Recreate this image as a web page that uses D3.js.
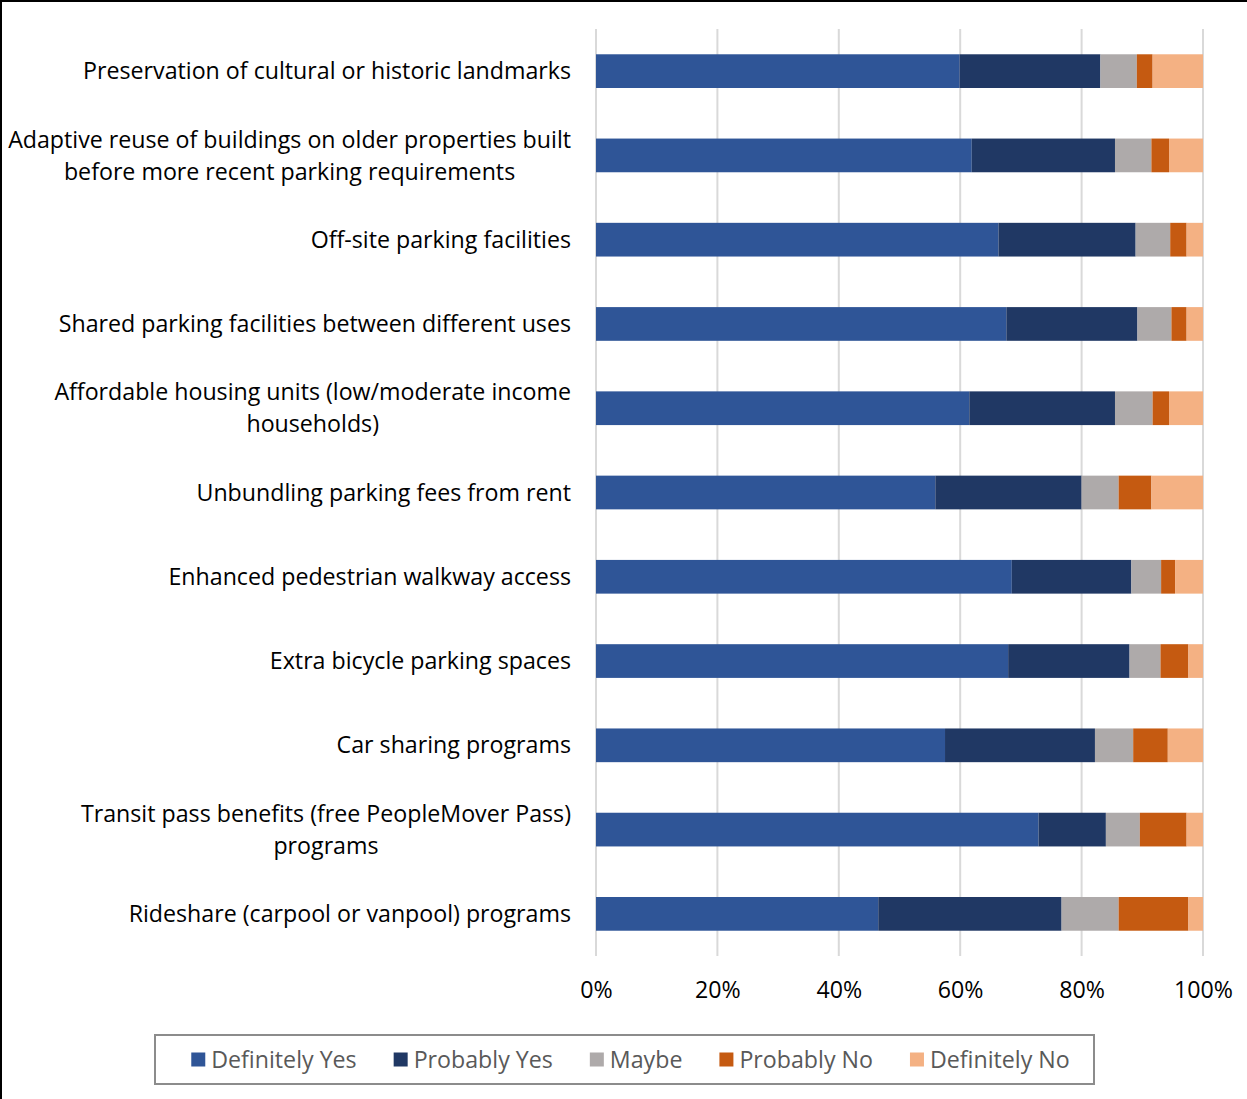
<!DOCTYPE html>
<html>
<head>
<meta charset="utf-8">
<script src="https://cdn.jsdelivr.net/npm/d3@7"></script>
<style>
  html, body { margin: 0; padding: 0; background: #fff; }
  svg { display: block; }
</style>
</head>
<body>
<svg id="chart" width="1247" height="1099"></svg>
<script>
// Survey items, top to bottom (multi-line labels split on "|")
const categories = [
  "Preservation of cultural or historic landmarks",
  "Adaptive reuse of buildings on older properties built|before more recent parking requirements",
  "Off-site parking facilities",
  "Shared parking facilities between different uses",
  "Affordable housing units (low/moderate income|households)",
  "Unbundling parking fees from rent",
  "Enhanced pedestrian walkway access",
  "Extra bicycle parking spaces",
  "Car sharing programs",
  "Transit pass benefits (free PeopleMover Pass)|programs",
  "Rideshare (carpool or vanpool) programs"
];

const seriesNames = ["Definitely Yes", "Probably Yes", "Maybe", "Probably No", "Definitely No"];

// Share of responses (%) per category, one array per response option
const definitelyYes = [59.9, 61.9, 66.3, 67.6, 61.5, 55.9, 68.5, 67.9, 57.5, 72.9, 46.5];
const probablyYes   = [23.2, 23.6, 22.6, 21.6, 24.0, 24.1, 19.7, 20.0, 24.7, 11.1, 30.2];
const maybe         = [ 6.0,  6.0,  5.7,  5.6,  6.2,  6.1,  4.9,  5.1,  6.3,  5.6,  9.4];
const probablyNo    = [ 2.6,  2.9,  2.7,  2.5,  2.7,  5.4,  2.3,  4.6,  5.7,  7.7, 11.5];
const definitelyNo  = [ 8.3,  5.6,  2.7,  2.7,  5.6,  8.5,  4.6,  2.4,  5.8,  2.7,  2.4];

const tickValues = [0, 0.2, 0.4, 0.6, 0.8, 1.0];

const colors = ["#2F5597", "#203864", "#AEAAAA", "#C55A11", "#F4B183"];

// Build table for the stack layout
const seriesValues = [definitelyYes, probablyYes, maybe, probablyNo, definitelyNo];
const rows = categories.map((c, i) => {
  const r = { category: c };
  let total = 0;
  seriesNames.forEach((s, j) => { total += seriesValues[j][i]; });
  seriesNames.forEach((s, j) => { r[s] = seriesValues[j][i] / total; });
  return r;
});

const svg = d3.select("#chart");
const fontFamily = "'Open Sans', 'DejaVu Sans', sans-serif";
const fontSize = 23.2;

// Chart area frame
svg.append("rect")
  .attr("x", 1).attr("y", 1)
  .attr("width", 1260).attr("height", 1110)
  .attr("fill", "#fff")
  .attr("stroke", "#000").attr("stroke-width", 2);

const plot = { left: 596, right: 1203, top: 29, bottom: 956 };

const x = d3.scaleLinear().domain([0, 1]).range([plot.left, plot.right]);
const y = d3.scaleBand().domain(categories).range([plot.top, plot.bottom]).paddingInner(0.6).paddingOuter(0.3);

// Vertical gridlines
svg.append("g")
  .selectAll("line")
  .data(tickValues)
  .join("line")
  .attr("x1", d => x(d)).attr("x2", d => x(d))
  .attr("y1", plot.top).attr("y2", plot.bottom)
  .attr("stroke", "#D9D9D9").attr("stroke-width", 2);

// Stacked bars
const stack = d3.stack().keys(seriesNames);
const stacked = stack(rows);
const color = d3.scaleOrdinal().domain(seriesNames).range(colors);

svg.append("g")
  .selectAll("g")
  .data(stacked)
  .join("g")
  .attr("fill", d => color(d.key))
  .selectAll("rect")
  .data(d => d)
  .join("rect")
  .attr("x", d => x(d[0]))
  .attr("width", d => x(d[1]) - x(d[0]))
  .attr("y", d => y(d.data.category))
  .attr("height", y.bandwidth());

// X axis tick labels
const xAxis = d3.axisBottom(x)
  .tickValues(tickValues)
  .tickFormat(d3.format(".0%"))
  .tickSize(0)
  .tickPadding(0);

const gx = svg.append("g")
  .attr("transform", `translate(0, 990)`)
  .call(xAxis);
gx.select(".domain").remove();
gx.selectAll("text")
  .attr("dy", "0.35em")
  .attr("font-family", fontFamily)
  .attr("font-size", fontSize)
  .attr("fill", "#000");

// Category labels: block right-aligned to 571, lines centered within block
const lineGap = 32;
const labelG = svg.append("g")
  .attr("font-family", fontFamily)
  .attr("font-size", fontSize)
  .attr("fill", "#000");

categories.forEach(cat => {
  const lines = cat.split("|");
  const cy = y(cat) + y.bandwidth() / 2;
  const g = labelG.append("g");
  const texts = lines.map((ln, k) => g.append("text")
    .attr("y", cy + (k - (lines.length - 1) / 2) * lineGap)
    .attr("dy", "0.35em")
    .attr("text-anchor", "middle")
    .text(ln));
  const widths = texts.map(t => t.node().getComputedTextLength());
  const maxW = d3.max(widths);
  const center = 571 - maxW / 2;
  texts.forEach(t => t.attr("x", center));
});

// Legend
const legend = { x: 155, y: 1035, w: 939, h: 49, inset: 12 };
svg.append("rect")
  .attr("x", legend.x).attr("y", legend.y)
  .attr("width", legend.w).attr("height", legend.h)
  .attr("fill", "#fff")
  .attr("stroke", "#8C8C8C").attr("stroke-width", 2);

const legG = svg.append("g")
  .attr("font-family", fontFamily)
  .attr("font-size", fontSize)
  .attr("fill", "#595959");

const items = seriesNames.map(name => {
  const g = legG.append("g");
  g.append("rect").attr("width", 14).attr("height", 14).attr("y", -7).attr("fill", color(name));
  const t = g.append("text").attr("x", 20).attr("dy", "0.35em").text(name);
  return { g, w: 20 + t.node().getComputedTextLength() };
});
const gap = 37;
const totalW = d3.sum(items, d => d.w) + gap * (items.length - 1);
let cx = legend.x + legend.inset + (legend.w - legend.inset - totalW) / 2;
items.forEach(it => {
  it.g.attr("transform", `translate(${cx}, ${legend.y + legend.h / 2})`);
  cx += it.w + gap;
});
</script>
</body>
</html>
